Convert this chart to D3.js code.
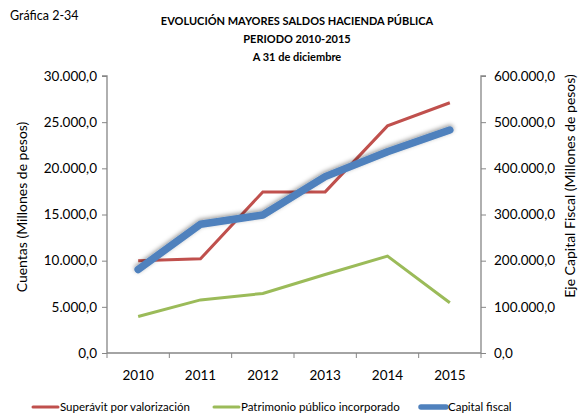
<!DOCTYPE html>
<html>
<head>
<meta charset="utf-8">
<script src="https://cdn.jsdelivr.net/npm/d3@7"></script>
<style>
  body { margin: 0; background: #fff; }
  text { font-family: Lato, "Open Sans", sans-serif; fill: #000; }
</style>
</head>
<body>
<div id="chart"></div>
<script>
// data
var years = ["2010", "2011", "2012", "2013", "2014", "2015"];
var superavit = [10000, 10200, 17450, 17450, 24600, 27100];
var patrimonio = [3950, 5750, 6450, 8500, 10500, 5450];
var capitalFiscal = [181000, 279000, 299000, 382000, 436000, 483000];
var leftTicks = [0, 5000, 10000, 15000, 20000, 25000, 30000];
var rightTicks = [0, 100000, 200000, 300000, 400000, 500000, 600000];

var titleLines = ["EVOLUCIÓN MAYORES SALDOS HACIENDA PÚBLICA", "PERIODO 2010-2015", "A 31 de diciembre"];

var W = 580, H = 420;
// plot area (window.top is taken, so no "top" here)
var pL = 107, pR = 481, pT = 76, pB = 353;
var axisColor = "#868686";

var svg = d3.select("#chart").append("svg")
  .attr("width", W)
  .attr("height", H);

// soft gray halo round the blue line
var defs = svg.append("defs");
var f = defs.append("filter").attr("id", "shadow")
  .attr("x", "-10%").attr("y", "-20%").attr("width", "130%").attr("height", "150%");
f.append("feDropShadow")
  .attr("dx", 0).attr("dy", -1.5)
  .attr("stdDeviation", 2.2)
  .attr("flood-color", "#000")
  .attr("flood-opacity", 0.4);

// number format like 30.000,0
var locale = d3.formatLocale({ decimal: ",", thousands: ".", grouping: [3], currency: ["", ""] });
var fmt = locale.format(",.1f");

var x = d3.scaleBand().domain(years).range([pL, pR]);
var yL = d3.scaleLinear().domain([0, 30000]).range([pB, pT]);
var yR = d3.scaleLinear().domain([0, 600000]).range([pB, pT]);

// header
svg.append("text")
  .attr("x", 10).attr("y", 20)
  .style("font-size", "12.5px")
  .text("Gráfica 2-34");

svg.selectAll(".title")
  .data(titleLines)
  .enter().append("text")
  .attr("class", "title")
  .attr("x", 297)
  .attr("y", (d, i) => 25 + i * 18)
  .attr("text-anchor", "middle")
  .style("font-size", "11px")
  .style("font-weight", "bold")
  .text(d => d);

// axes
var gL = svg.append("g")
  .attr("transform", "translate(" + pL + ",0)")
  .call(d3.axisLeft(yL).tickValues(leftTicks).tickFormat(fmt).tickSize(5).tickPadding(5));

var gR = svg.append("g")
  .attr("transform", "translate(" + pR + ",0)")
  .call(d3.axisRight(yR).tickValues(rightTicks).tickFormat(fmt).tickSize(5).tickPadding(8));

var gX = svg.append("g")
  .attr("transform", "translate(0," + pB + ")")
  .call(d3.axisBottom(x).tickSize(0).tickPadding(17));

// category boundary ticks on the x axis
gX.selectAll(".sep")
  .data(d3.range(years.length + 1))
  .enter().append("line")
  .attr("class", "sep")
  .attr("x1", i => pL + i * x.step())
  .attr("x2", i => pL + i * x.step())
  .attr("y1", 0).attr("y2", 5)
  .attr("stroke", axisColor);

[gL, gR, gX].forEach(function (g) {
  g.select(".domain").attr("stroke", axisColor).attr("stroke-width", 1.3);
  g.selectAll(".tick line").attr("stroke", axisColor);
  g.selectAll("text").style("font-size", "13.5px").style("font-family", "Lato, 'Open Sans', sans-serif").attr("fill", "#000");
});
gL.select(".domain").attr("d", "M-5," + pT + "H0V" + pB);
gR.select(".domain").attr("d", "M5," + pT + "H0V" + pB);
gX.select(".domain").attr("d", "M" + pL + ",0H" + pR);

// axis titles
svg.append("text")
  .attr("transform", "translate(27,207) rotate(-90)")
  .attr("text-anchor", "middle")
  .style("font-size", "14px")
  .text("Cuentas (Millones de pesos)");

svg.append("text")
  .attr("transform", "translate(575,186) rotate(-90)")
  .attr("text-anchor", "middle")
  .style("font-size", "14px")
  .text("Eje Capital Fiscal (Millones de pesos)");

// lines
var cx = d => x(d) + x.bandwidth() / 2;

var lineL = d3.line().x((d, i) => cx(years[i])).y(d => yL(d));
var lineR = d3.line().x((d, i) => cx(years[i])).y(d => yR(d));

svg.append("path")
  .datum(superavit)
  .attr("d", lineL)
  .attr("fill", "none")
  .attr("stroke", "#C0504D")
  .attr("stroke-width", 3);

svg.append("path")
  .datum(patrimonio)
  .attr("d", lineL)
  .attr("fill", "none")
  .attr("stroke", "#9BBB59")
  .attr("stroke-width", 3);

svg.append("path")
  .datum(capitalFiscal)
  .attr("d", lineR)
  .attr("fill", "none")
  .attr("stroke", "#4F81BD")
  .attr("stroke-width", 7.5)
  .attr("stroke-linecap", "round")
  .attr("stroke-linejoin", "round")
  .attr("filter", "url(#shadow)");

// legend
var legend = [
  { name: "Superávit por valorización", color: "#C0504D", w: 3, x: 33 },
  { name: "Patrimonio público incorporado", color: "#9BBB59", w: 3, x: 214 },
  { name: "Capital fiscal", color: "#4F81BD", w: 5.5, x: 421 }
];

var lg = svg.selectAll(".legend")
  .data(legend)
  .enter().append("g")
  .attr("class", "legend")
  .attr("transform", d => "translate(" + d.x + ",407)");

lg.append("line")
  .attr("x1", 0).attr("x2", 25)
  .attr("y1", 0).attr("y2", 0)
  .attr("stroke", d => d.color)
  .attr("stroke-width", d => d.w)
  .attr("stroke-linecap", "round");

lg.append("text")
  .attr("x", 27).attr("y", 4)
  .style("font-size", "11.5px")
  .text(d => d.name);
</script>
</body>
</html>
